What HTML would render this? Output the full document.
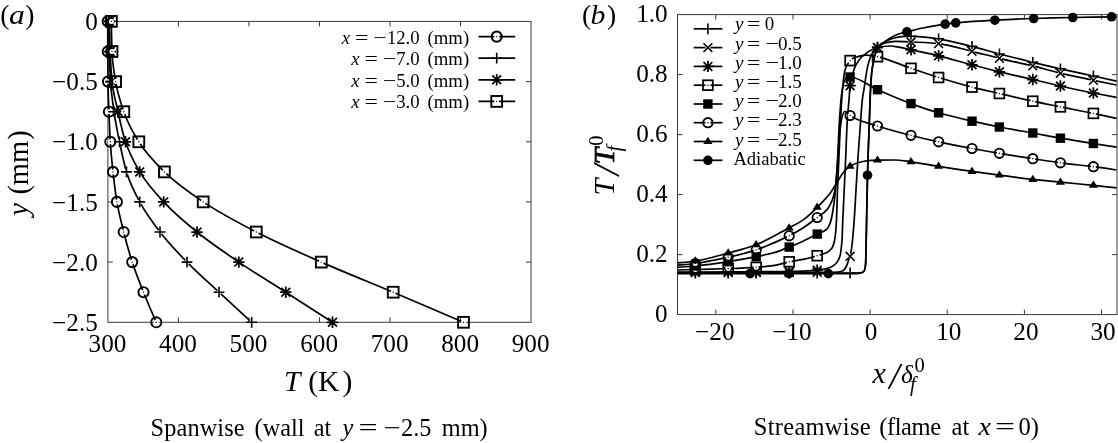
<!DOCTYPE html>
<html><head><meta charset="utf-8"><title>figure</title>
<style>html,body{margin:0;padding:0;background:#fff}svg{display:block}text{font-family:"Liberation Serif","DejaVu Serif",serif;fill:#000}</style></head>
<body>
<svg width="1118" height="443" viewBox="0 0 1118 443">
<rect width="1118" height="443" fill="#fff"/>
<rect x="107.9" y="21.4" width="423.1" height="300.9" fill="none" stroke="#3a3a3a" stroke-width="1"/>
<path d="M178.4 322.3v-5M178.4 21.4v5M248.9 322.3v-5M248.9 21.4v5M319.5 322.3v-5M319.5 21.4v5M390 322.3v-5M390 21.4v5M460.5 322.3v-5M460.5 21.4v5M107.9 81.6h5M531 81.6h-5M107.9 141.8h5M531 141.8h-5M107.9 201.9h5M531 201.9h-5M107.9 262.1h5M531 262.1h-5" stroke="#3a3a3a" stroke-width="1" fill="none"/>
<g font-size="25.2" text-anchor="middle">
<text x="107.5" y="352.3">300</text>
<text x="178" y="352.3">400</text>
<text x="248.5" y="352.3">500</text>
<text x="319.1" y="352.3">600</text>
<text x="389.6" y="352.3">700</text>
<text x="460.1" y="352.3">800</text>
<text x="530.6" y="352.3">900</text>
</g>
<text y="30" font-size="25.2"><tspan x="85.20">0</tspan></text>
<text y="90.2" font-size="25.2"><tspan x="52.00">−</tspan><tspan x="66.30">0.5</tspan></text>
<text y="150.4" font-size="25.2"><tspan x="52.00">−</tspan><tspan x="66.30">1.0</tspan></text>
<text y="210.5" font-size="25.2"><tspan x="52.00">−</tspan><tspan x="66.30">1.5</tspan></text>
<text y="270.7" font-size="25.2"><tspan x="52.00">−</tspan><tspan x="66.30">2.0</tspan></text>
<text y="330.9" font-size="25.2"><tspan x="52.00">−</tspan><tspan x="66.30">2.5</tspan></text>
<path d="M107.7 21.4C107.7 31.4 107.8 41.5 107.8 51.5C107.8 61.5 107.9 71.6 108 81.6C108.1 91.6 108.5 101.6 108.9 111.7C109.3 121.7 109.7 131.7 110.3 141.8C110.9 151.8 111.9 161.8 113 171.9C114.1 181.9 115.2 191.9 116.9 201.9C118.6 212 121.2 222 123.7 232C126.2 242.1 129 252.1 132.2 262.1C135.4 272.2 139.5 282.2 143.5 292.2C147.5 302.2 151.8 312.3 156.3 322.3" fill="none" stroke="#000" stroke-width="1.7"/>
<circle cx="107.7" cy="21.4" r="2.5" fill="#fff"/><circle cx="107.7" cy="21.4" r="5.1" fill="none" stroke="#000" stroke-width="1.9"/><circle cx="107.7" cy="21.4" r="0.7" fill="#000"/>
<circle cx="107.8" cy="51.5" r="2.5" fill="#fff"/><circle cx="107.8" cy="51.5" r="5.1" fill="none" stroke="#000" stroke-width="1.9"/><circle cx="107.8" cy="51.5" r="0.7" fill="#000"/>
<circle cx="108" cy="81.6" r="2.5" fill="#fff"/><circle cx="108" cy="81.6" r="5.1" fill="none" stroke="#000" stroke-width="1.9"/><circle cx="108" cy="81.6" r="0.7" fill="#000"/>
<circle cx="108.9" cy="111.7" r="2.5" fill="#fff"/><circle cx="108.9" cy="111.7" r="5.1" fill="none" stroke="#000" stroke-width="1.9"/><circle cx="108.9" cy="111.7" r="0.7" fill="#000"/>
<circle cx="110.3" cy="141.8" r="2.5" fill="#fff"/><circle cx="110.3" cy="141.8" r="5.1" fill="none" stroke="#000" stroke-width="1.9"/><circle cx="110.3" cy="141.8" r="0.7" fill="#000"/>
<circle cx="113" cy="171.9" r="2.5" fill="#fff"/><circle cx="113" cy="171.9" r="5.1" fill="none" stroke="#000" stroke-width="1.9"/><circle cx="113" cy="171.9" r="0.7" fill="#000"/>
<circle cx="116.9" cy="201.9" r="2.5" fill="#fff"/><circle cx="116.9" cy="201.9" r="5.1" fill="none" stroke="#000" stroke-width="1.9"/><circle cx="116.9" cy="201.9" r="0.7" fill="#000"/>
<circle cx="123.7" cy="232" r="2.5" fill="#fff"/><circle cx="123.7" cy="232" r="5.1" fill="none" stroke="#000" stroke-width="1.9"/><circle cx="123.7" cy="232" r="0.7" fill="#000"/>
<circle cx="132.2" cy="262.1" r="2.5" fill="#fff"/><circle cx="132.2" cy="262.1" r="5.1" fill="none" stroke="#000" stroke-width="1.9"/><circle cx="132.2" cy="262.1" r="0.7" fill="#000"/>
<circle cx="143.5" cy="292.2" r="2.5" fill="#fff"/><circle cx="143.5" cy="292.2" r="5.1" fill="none" stroke="#000" stroke-width="1.9"/><circle cx="143.5" cy="292.2" r="0.7" fill="#000"/>
<circle cx="156.3" cy="322.3" r="2.5" fill="#fff"/><circle cx="156.3" cy="322.3" r="5.1" fill="none" stroke="#000" stroke-width="1.9"/><circle cx="156.3" cy="322.3" r="0.7" fill="#000"/>
<path d="M109 21.4C109 31.4 109.1 41.5 109.3 51.5C109.5 61.5 109.9 71.6 110.5 81.6C111.1 91.6 112.6 101.6 114 111.7C115.4 121.7 117.4 131.7 119.5 141.8C121.6 151.8 123.5 161.8 126.5 171.9C129.5 181.9 134.4 191.9 139.7 201.9C145 212 152.3 222 160 232C167.7 242.1 177.2 252.1 187 262.1C196.8 272.2 208.2 282.2 219 292.2C229.8 302.2 240.7 312.3 251.7 322.3" fill="none" stroke="#000" stroke-width="1.7"/>
<circle cx="109" cy="21.4" r="2.5" fill="#fff"/><path d="M103.6 21.4H114.4M109 16V26.8" stroke="#000" stroke-width="1.6" fill="none"/>
<circle cx="109.3" cy="51.5" r="2.5" fill="#fff"/><path d="M103.9 51.5H114.7M109.3 46.1V56.9" stroke="#000" stroke-width="1.6" fill="none"/>
<circle cx="110.5" cy="81.6" r="2.5" fill="#fff"/><path d="M105.1 81.6H115.9M110.5 76.2V87" stroke="#000" stroke-width="1.6" fill="none"/>
<circle cx="114" cy="111.7" r="2.5" fill="#fff"/><path d="M108.6 111.7H119.4M114 106.3V117.1" stroke="#000" stroke-width="1.6" fill="none"/>
<circle cx="119.5" cy="141.8" r="2.5" fill="#fff"/><path d="M114.1 141.8H124.9M119.5 136.4V147.2" stroke="#000" stroke-width="1.6" fill="none"/>
<circle cx="126.5" cy="171.9" r="2.5" fill="#fff"/><path d="M121.1 171.9H131.9M126.5 166.5V177.3" stroke="#000" stroke-width="1.6" fill="none"/>
<circle cx="139.7" cy="201.9" r="2.5" fill="#fff"/><path d="M134.3 201.9H145.1M139.7 196.5V207.3" stroke="#000" stroke-width="1.6" fill="none"/>
<circle cx="160" cy="232" r="2.5" fill="#fff"/><path d="M154.6 232H165.4M160 226.6V237.4" stroke="#000" stroke-width="1.6" fill="none"/>
<circle cx="187" cy="262.1" r="2.5" fill="#fff"/><path d="M181.6 262.1H192.4M187 256.7V267.5" stroke="#000" stroke-width="1.6" fill="none"/>
<circle cx="219" cy="292.2" r="2.5" fill="#fff"/><path d="M213.6 292.2H224.4M219 286.8V297.6" stroke="#000" stroke-width="1.6" fill="none"/>
<circle cx="251.7" cy="322.3" r="2.5" fill="#fff"/><path d="M246.3 322.3H257.1M251.7 316.9V327.7" stroke="#000" stroke-width="1.6" fill="none"/>
<path d="M109.5 21.4C109.5 31.4 109.9 41.5 110.2 51.5C110.5 61.5 111.1 71.6 112 81.6C112.9 91.6 115.8 101.6 118 111.7C120.2 121.7 122.2 131.7 125.5 141.8C128.8 151.8 133.8 161.8 139.7 171.9C145.6 181.9 154.4 191.9 163.7 201.9C173 212 184.6 222 197 232C209.4 242.1 224.1 252.1 238.8 262.1C253.5 272.2 270.2 282.2 285.8 292.2C301.4 302.2 317 312.3 332.5 322.3" fill="none" stroke="#000" stroke-width="1.7"/>
<circle cx="109.5" cy="21.4" r="2.5" fill="#fff"/><path d="M103.8 21.4H115.2M109.5 15.7V27.1M105.1 17L113.9 25.8M105.1 25.8L113.9 17" stroke="#000" stroke-width="1.75" fill="none"/>
<circle cx="110.2" cy="51.5" r="2.5" fill="#fff"/><path d="M104.5 51.5H115.9M110.2 45.8V57.2M105.8 47.1L114.6 55.9M105.8 55.9L114.6 47.1" stroke="#000" stroke-width="1.75" fill="none"/>
<circle cx="112" cy="81.6" r="2.5" fill="#fff"/><path d="M106.3 81.6H117.7M112 75.9V87.3M107.6 77.2L116.4 86M107.6 86L116.4 77.2" stroke="#000" stroke-width="1.75" fill="none"/>
<circle cx="118" cy="111.7" r="2.5" fill="#fff"/><path d="M112.3 111.7H123.7M118 106V117.4M113.6 107.3L122.4 116.1M113.6 116.1L122.4 107.3" stroke="#000" stroke-width="1.75" fill="none"/>
<circle cx="125.5" cy="141.8" r="2.5" fill="#fff"/><path d="M119.8 141.8H131.2M125.5 136.1V147.5M121.1 137.4L129.9 146.2M121.1 146.2L129.9 137.4" stroke="#000" stroke-width="1.75" fill="none"/>
<circle cx="139.7" cy="171.9" r="2.5" fill="#fff"/><path d="M134 171.9H145.4M139.7 166.2V177.6M135.3 167.5L144.1 176.3M135.3 176.3L144.1 167.5" stroke="#000" stroke-width="1.75" fill="none"/>
<circle cx="163.7" cy="201.9" r="2.5" fill="#fff"/><path d="M158 201.9H169.4M163.7 196.2V207.6M159.3 197.5L168.1 206.3M159.3 206.3L168.1 197.5" stroke="#000" stroke-width="1.75" fill="none"/>
<circle cx="197" cy="232" r="2.5" fill="#fff"/><path d="M191.3 232H202.7M197 226.3V237.7M192.6 227.6L201.4 236.4M192.6 236.4L201.4 227.6" stroke="#000" stroke-width="1.75" fill="none"/>
<circle cx="238.8" cy="262.1" r="2.5" fill="#fff"/><path d="M233.1 262.1H244.5M238.8 256.4V267.8M234.4 257.7L243.2 266.5M234.4 266.5L243.2 257.7" stroke="#000" stroke-width="1.75" fill="none"/>
<circle cx="285.8" cy="292.2" r="2.5" fill="#fff"/><path d="M280.1 292.2H291.5M285.8 286.5V297.9M281.4 287.8L290.2 296.6M281.4 296.6L290.2 287.8" stroke="#000" stroke-width="1.75" fill="none"/>
<circle cx="332.5" cy="322.3" r="2.5" fill="#fff"/><path d="M326.8 322.3H338.2M332.5 316.6V328M328.1 317.9L336.9 326.7M328.1 326.7L336.9 317.9" stroke="#000" stroke-width="1.75" fill="none"/>
<path d="M111.4 21.4C111.4 31.4 111.7 41.5 112 51.5C112.3 61.5 113.9 71.6 115.6 81.6C117.3 91.6 120.3 101.6 123.8 111.7C127.3 121.7 132.5 131.7 138.8 141.8C145.1 151.8 154.1 161.8 164.4 171.9C174.7 181.9 188.3 191.9 203.2 201.9C218.1 212 236.8 222 256.3 232C275.8 242.1 298.5 252.1 321.3 262.1C344.1 272.2 369.5 282.2 393.2 292.2C416.9 302.2 440.3 312.3 463.5 322.3" fill="none" stroke="#000" stroke-width="1.7"/>
<circle cx="111.4" cy="21.4" r="2.5" fill="#fff"/><rect x="106" y="16" width="10.8" height="10.8" fill="none" stroke="#000" stroke-width="1.9"/><circle cx="111.4" cy="21.4" r="0.7" fill="#000"/>
<circle cx="112" cy="51.5" r="2.5" fill="#fff"/><rect x="106.6" y="46.1" width="10.8" height="10.8" fill="none" stroke="#000" stroke-width="1.9"/><circle cx="112" cy="51.5" r="0.7" fill="#000"/>
<circle cx="115.6" cy="81.6" r="2.5" fill="#fff"/><rect x="110.2" y="76.2" width="10.8" height="10.8" fill="none" stroke="#000" stroke-width="1.9"/><circle cx="115.6" cy="81.6" r="0.7" fill="#000"/>
<circle cx="123.8" cy="111.7" r="2.5" fill="#fff"/><rect x="118.4" y="106.3" width="10.8" height="10.8" fill="none" stroke="#000" stroke-width="1.9"/><circle cx="123.8" cy="111.7" r="0.7" fill="#000"/>
<circle cx="138.8" cy="141.8" r="2.5" fill="#fff"/><rect x="133.4" y="136.4" width="10.8" height="10.8" fill="none" stroke="#000" stroke-width="1.9"/><circle cx="138.8" cy="141.8" r="0.7" fill="#000"/>
<circle cx="164.4" cy="171.9" r="2.5" fill="#fff"/><rect x="159" y="166.5" width="10.8" height="10.8" fill="none" stroke="#000" stroke-width="1.9"/><circle cx="164.4" cy="171.9" r="0.7" fill="#000"/>
<circle cx="203.2" cy="201.9" r="2.5" fill="#fff"/><rect x="197.8" y="196.5" width="10.8" height="10.8" fill="none" stroke="#000" stroke-width="1.9"/><circle cx="203.2" cy="201.9" r="0.7" fill="#000"/>
<circle cx="256.3" cy="232" r="2.5" fill="#fff"/><rect x="250.9" y="226.6" width="10.8" height="10.8" fill="none" stroke="#000" stroke-width="1.9"/><circle cx="256.3" cy="232" r="0.7" fill="#000"/>
<circle cx="321.3" cy="262.1" r="2.5" fill="#fff"/><rect x="315.9" y="256.7" width="10.8" height="10.8" fill="none" stroke="#000" stroke-width="1.9"/><circle cx="321.3" cy="262.1" r="0.7" fill="#000"/>
<circle cx="393.2" cy="292.2" r="2.5" fill="#fff"/><rect x="387.8" y="286.8" width="10.8" height="10.8" fill="none" stroke="#000" stroke-width="1.9"/><circle cx="393.2" cy="292.2" r="0.7" fill="#000"/>
<circle cx="463.5" cy="322.3" r="2.5" fill="#fff"/><rect x="458.1" y="316.9" width="10.8" height="10.8" fill="none" stroke="#000" stroke-width="1.9"/><circle cx="463.5" cy="322.3" r="0.7" fill="#000"/>
<path d="M478.5 36.6H515.2" stroke="#000" stroke-width="1.7"/>
<circle cx="496.7" cy="36.6" r="2.5" fill="#fff"/><circle cx="496.7" cy="36.6" r="5.1" fill="none" stroke="#000" stroke-width="1.9"/><circle cx="496.7" cy="36.6" r="0.7" fill="#000"/>
<text y="43.5" font-size="18.7" id="ll0"><tspan x="341.73" font-style="italic">x</tspan><tspan x="386.88">12.0</tspan><tspan x="427.60">(mm)</tspan></text><text transform=" translate(355.10 43.5) scale(1.27 1)" font-size="18.7">=</text><text transform=" translate(373.30 43.5) scale(1.27 1)" font-size="18.7">−</text>
<path d="M478.5 58.1H515.2" stroke="#000" stroke-width="1.7"/>
<circle cx="496.7" cy="58.1" r="2.5" fill="#fff"/><path d="M491.3 58.1H502.1M496.7 52.7V63.5" stroke="#000" stroke-width="1.6" fill="none"/>
<text y="65" font-size="18.7" id="ll1"><tspan x="351.23" font-style="italic">x</tspan><tspan x="396.23">7.0</tspan><tspan x="427.60">(mm)</tspan></text><text transform=" translate(364.60 65) scale(1.27 1)" font-size="18.7">=</text><text transform=" translate(382.80 65) scale(1.27 1)" font-size="18.7">−</text>
<path d="M478.5 79.8H515.2" stroke="#000" stroke-width="1.7"/>
<circle cx="496.7" cy="79.8" r="2.5" fill="#fff"/><path d="M491 79.8H502.4M496.7 74.1V85.5M492.3 75.4L501.1 84.2M492.3 84.2L501.1 75.4" stroke="#000" stroke-width="1.75" fill="none"/>
<text y="86.7" font-size="18.7" id="ll2"><tspan x="351.23" font-style="italic">x</tspan><tspan x="396.23">5.0</tspan><tspan x="427.60">(mm)</tspan></text><text transform=" translate(364.60 86.7) scale(1.27 1)" font-size="18.7">=</text><text transform=" translate(382.80 86.7) scale(1.27 1)" font-size="18.7">−</text>
<path d="M478.5 101.4H515.2" stroke="#000" stroke-width="1.7"/>
<circle cx="496.7" cy="101.4" r="2.5" fill="#fff"/><rect x="491.3" y="96" width="10.8" height="10.8" fill="none" stroke="#000" stroke-width="1.9"/><circle cx="496.7" cy="101.4" r="0.7" fill="#000"/>
<text y="108.3" font-size="18.7" id="ll3"><tspan x="351.23" font-style="italic">x</tspan><tspan x="396.23">3.0</tspan><tspan x="427.60">(mm)</tspan></text><text transform=" translate(364.60 108.3) scale(1.27 1)" font-size="18.7">=</text><text transform=" translate(382.80 108.3) scale(1.27 1)" font-size="18.7">−</text>
<text y="23.7" font-size="27.5" id="pa"><tspan x="0.30">(</tspan><tspan x="25.30">)</tspan></text><text transform=" translate(9.00 23.7) scale(1.15 1)" font-size="27.5" font-style="italic">a</text>
<text y="28" font-size="28.5" id="yl1" transform="rotate(-90)"><tspan x="-215.82" font-style="italic">y</tspan><tspan x="-194.60">(</tspan><tspan x="-185.20">mm</tspan><tspan x="-139.70">)</tspan></text>
<text y="391" font-size="29.6" id="xl1"><tspan x="284.00" font-style="italic">T</tspan><tspan x="308.30">(</tspan><tspan x="318.00">K</tspan><tspan x="342.44">)</tspan></text>
<text y="435.8" font-size="24.3" id="cap1"><tspan x="150.60" letter-spacing="0.12">Spanwise</tspan><tspan x="254.60">(wall</tspan><tspan x="313.80">at</tspan><tspan x="342.43" font-style="italic">y</tspan><tspan x="401.02">2.5</tspan><tspan x="441.81">mm)</tspan></text><text transform=" translate(358.40 435.8) scale(1.4 1)" font-size="24.3">=</text><text transform=" translate(383.60 435.8) scale(1.27 1)" font-size="24.3">−</text>
<rect x="677.5" y="14.6" width="439.5" height="300" fill="none" stroke="#3a3a3a" stroke-width="1"/>
<path d="M715.8 314.6v-5M715.8 14.6v5M793 314.6v-5M793 14.6v5M870.1 314.6v-5M870.1 14.6v5M947.2 314.6v-5M947.2 14.6v5M1024.4 314.6v-5M1024.4 14.6v5M1101.5 314.6v-5M1101.5 14.6v5M677.5 74.6h5M1117 74.6h-5M677.5 134.6h5M1117 134.6h-5M677.5 194.6h5M1117 194.6h-5M677.5 254.6h5M1117 254.6h-5" stroke="#3a3a3a" stroke-width="1" fill="none"/>
<g font-size="25.2" text-anchor="middle">
<text x="714.8" y="340.2">−20</text>
<text x="792" y="340.2">−10</text>
<text x="871" y="340.2">0</text>
<text x="948.8" y="340.2">10</text>
<text x="1025.9" y="340.2">20</text>
<text x="1103" y="340.2">30</text>
</g>
<text y="22" font-size="25.2"><tspan x="636.20">1.0</tspan></text>
<text y="82" font-size="25.2"><tspan x="636.20">0.8</tspan></text>
<text y="142" font-size="25.2"><tspan x="636.20">0.6</tspan></text>
<text y="202" font-size="25.2"><tspan x="636.20">0.4</tspan></text>
<text y="262" font-size="25.2"><tspan x="636.20">0.2</tspan></text>
<text y="322" font-size="25.2"><tspan x="655.10">0</tspan></text>
<path d="M677.6 273C705.1 273 732.5 273 760 273C792.3 273 824.7 273 857 273C858.8 273 860.6 272.8 862.4 272.3C863.1 272.1 863.9 271.3 864.6 269.8C864.9 269.1 865.3 267.6 865.6 264C865.8 261.8 866 248.9 866.2 240C866.4 232.6 866.5 223.3 866.7 215C867 201.7 867.2 185.5 867.5 175.2C867.8 164.9 868 157.8 868.3 150C868.7 139.2 869 130 869.4 120C869.8 110 870.1 96.7 870.5 90C871 80.9 871.5 73.8 872 70C872.6 65.1 873.3 63 873.9 60C874.4 57.5 875 54.9 875.5 53C876.1 51 876.6 48.6 877.2 47.8C879 45.3 880.7 44.7 882.5 43.6C886.1 41.3 889.8 39.1 893.4 38.2C897 37.3 900.6 36.5 904.2 36.4C907.8 36.3 911.4 36.3 915 36.3C918.3 36.3 921.7 36.8 925 37.1C929.5 37.5 934 38.1 938.5 38.8C949.7 40.5 960.8 43.6 972 46.4C981.1 48.7 990.3 51.6 999.4 54C1010.5 56.9 1021.7 59.6 1032.8 62.3C1042 64.5 1051.2 66.7 1060.4 68.8C1071.4 71.3 1082.4 73.6 1093.4 76C1101.1 77.7 1108.8 79.4 1116.5 81.2" fill="none" stroke="#000" stroke-width="1.7" stroke-linejoin="round"/>
<circle cx="695.3" cy="273" r="2.5" fill="#fff"/><path d="M689.9 273H700.7M695.3 267.6V278.4" stroke="#000" stroke-width="1.6" fill="none"/>
<circle cx="728.2" cy="273" r="2.5" fill="#fff"/><path d="M722.8 273H733.6M728.2 267.6V278.4" stroke="#000" stroke-width="1.6" fill="none"/>
<circle cx="756.2" cy="273" r="2.5" fill="#fff"/><path d="M750.8 273H761.6M756.2 267.6V278.4" stroke="#000" stroke-width="1.6" fill="none"/>
<circle cx="789.2" cy="273" r="2.5" fill="#fff"/><path d="M783.8 273H794.6M789.2 267.6V278.4" stroke="#000" stroke-width="1.6" fill="none"/>
<circle cx="817.2" cy="273" r="2.5" fill="#fff"/><path d="M811.8 273H822.6M817.2 267.6V278.4" stroke="#000" stroke-width="1.6" fill="none"/>
<circle cx="850.1" cy="273" r="2.5" fill="#fff"/><path d="M844.7 273H855.5M850.1 267.6V278.4" stroke="#000" stroke-width="1.6" fill="none"/>
<circle cx="877.5" cy="47.4" r="2.5" fill="#fff"/><path d="M872.1 47.4H882.9M877.5 42V52.8" stroke="#000" stroke-width="1.6" fill="none"/>
<circle cx="911" cy="36.3" r="2.5" fill="#fff"/><path d="M905.6 36.3H916.4M911 30.9V41.7" stroke="#000" stroke-width="1.6" fill="none"/>
<circle cx="938.6" cy="38.8" r="2.5" fill="#fff"/><path d="M933.2 38.8H944M938.6 33.4V44.2" stroke="#000" stroke-width="1.6" fill="none"/>
<circle cx="972" cy="46.4" r="2.5" fill="#fff"/><path d="M966.6 46.4H977.4M972 41V51.8" stroke="#000" stroke-width="1.6" fill="none"/>
<circle cx="999.4" cy="54" r="2.5" fill="#fff"/><path d="M994 54H1004.8M999.4 48.6V59.4" stroke="#000" stroke-width="1.6" fill="none"/>
<circle cx="1032.8" cy="62.3" r="2.5" fill="#fff"/><path d="M1027.4 62.3H1038.2M1032.8 56.9V67.7" stroke="#000" stroke-width="1.6" fill="none"/>
<circle cx="1060.4" cy="68.8" r="2.5" fill="#fff"/><path d="M1055 68.8H1065.8M1060.4 63.4V74.2" stroke="#000" stroke-width="1.6" fill="none"/>
<circle cx="1093.4" cy="76" r="2.5" fill="#fff"/><path d="M1088 76H1098.8M1093.4 70.6V81.4" stroke="#000" stroke-width="1.6" fill="none"/>
<path d="M677.6 272.5C705.1 272.5 732.5 272.5 760 272.5C783.3 272.5 806.7 272.5 830 272.4C832.7 272.4 835.3 272.2 838 272C839.7 271.9 841.3 271.5 843 270.7C844.2 270.2 845.3 268.2 846.5 266C847.2 264.8 847.8 262.3 848.5 260.5C849 259.1 849.6 258.2 850.1 256.3C850.7 254 851.4 249.9 852 245C852.7 239.3 853.5 230 854.2 220C854.8 211.8 855.4 200 856 190C856.6 180 857.2 169.1 857.8 160C858.8 145.3 859.7 132.6 860.7 120C861.2 113 861.8 104.5 862.3 100C862.9 94.6 863.6 92.2 864.2 88C864.7 84.5 865.3 80.4 865.8 77C866.4 73.2 867 69.2 867.6 66.6C868.6 62.4 869.5 59.3 870.5 57C871.5 54.6 872.5 52.8 873.5 51.5C874.7 49.9 876 48.8 877.2 47.8C879.8 45.8 882.4 43.7 885 43C888.3 42.1 891.7 41.3 895 41.3C900.3 41.3 905.7 41.8 911 42C915.7 42.2 920.3 42.3 925 42.5C929.5 42.7 934 43.1 938.5 43.6C949.7 44.9 960.8 48.6 972 51.3C981.1 53.5 990.3 56.1 999.4 58.3C1010.5 61 1021.7 63.2 1032.8 65.9C1042 68.2 1051.2 71 1060.4 73.2C1071.4 75.8 1082.4 78 1093.4 80.3C1101.1 81.9 1108.8 83.5 1116.5 85" fill="none" stroke="#000" stroke-width="1.7" stroke-linejoin="round"/>
<circle cx="695.3" cy="272.5" r="2.5" fill="#fff"/><path d="M690.9 268.1L699.7 276.9M690.9 276.9L699.7 268.1" stroke="#000" stroke-width="1.6" fill="none"/>
<circle cx="728.2" cy="272.5" r="2.5" fill="#fff"/><path d="M723.8 268.1L732.6 276.9M723.8 276.9L732.6 268.1" stroke="#000" stroke-width="1.6" fill="none"/>
<circle cx="756.2" cy="272.5" r="2.5" fill="#fff"/><path d="M751.8 268.1L760.6 276.9M751.8 276.9L760.6 268.1" stroke="#000" stroke-width="1.6" fill="none"/>
<circle cx="789.2" cy="272.5" r="2.5" fill="#fff"/><path d="M784.8 268.1L793.6 276.9M784.8 276.9L793.6 268.1" stroke="#000" stroke-width="1.6" fill="none"/>
<circle cx="817.2" cy="272.4" r="2.5" fill="#fff"/><path d="M812.8 268L821.6 276.8M812.8 276.8L821.6 268" stroke="#000" stroke-width="1.6" fill="none"/>
<circle cx="850.1" cy="256.3" r="2.5" fill="#fff"/><path d="M845.7 251.9L854.5 260.7M845.7 260.7L854.5 251.9" stroke="#000" stroke-width="1.6" fill="none"/>
<circle cx="877.5" cy="47.6" r="2.5" fill="#fff"/><path d="M873.1 43.2L881.9 52M873.1 52L881.9 43.2" stroke="#000" stroke-width="1.6" fill="none"/>
<circle cx="911" cy="42" r="2.5" fill="#fff"/><path d="M906.6 37.6L915.4 46.4M906.6 46.4L915.4 37.6" stroke="#000" stroke-width="1.6" fill="none"/>
<circle cx="938.6" cy="43.6" r="2.5" fill="#fff"/><path d="M934.2 39.2L943 48M934.2 48L943 39.2" stroke="#000" stroke-width="1.6" fill="none"/>
<circle cx="972" cy="51.3" r="2.5" fill="#fff"/><path d="M967.6 46.9L976.4 55.7M967.6 55.7L976.4 46.9" stroke="#000" stroke-width="1.6" fill="none"/>
<circle cx="999.4" cy="58.3" r="2.5" fill="#fff"/><path d="M995 53.9L1003.8 62.7M995 62.7L1003.8 53.9" stroke="#000" stroke-width="1.6" fill="none"/>
<circle cx="1032.8" cy="65.9" r="2.5" fill="#fff"/><path d="M1028.4 61.5L1037.2 70.3M1028.4 70.3L1037.2 61.5" stroke="#000" stroke-width="1.6" fill="none"/>
<circle cx="1060.4" cy="73.2" r="2.5" fill="#fff"/><path d="M1056 68.8L1064.8 77.6M1056 77.6L1064.8 68.8" stroke="#000" stroke-width="1.6" fill="none"/>
<circle cx="1093.4" cy="80.3" r="2.5" fill="#fff"/><path d="M1089 75.9L1097.8 84.7M1089 84.7L1097.8 75.9" stroke="#000" stroke-width="1.6" fill="none"/>
<path d="M677.6 272C698.4 272 719.2 272 740 271.9C756.4 271.9 772.8 271.7 789.2 271.5C798.5 271.4 807.9 271 817.2 270.3C821.5 270 825.7 269 830 267.5C832 266.8 834 265.5 836 263.5C837.3 262.1 838.7 260.4 840 256C840.7 253.8 841.3 248.7 842 240C842.3 236.5 842.5 226.2 842.8 220C843.3 209.2 843.7 200 844.2 190C844.7 180 845.1 170.5 845.6 160C846.2 147.3 846.7 128.9 847.3 120C847.9 111.1 848.4 107 849 100C849.4 95.5 849.7 88.3 850.1 85.7C850.9 79.7 851.8 77.3 852.6 74.3C853.5 71 854.4 68.1 855.3 66.2C857.1 62.4 858.9 60 860.7 58C862.1 56.4 863.6 55.5 865 54.3C866.3 53.2 867.6 52.1 868.9 51.3C870.3 50.5 871.6 49.8 873 49.2C874.4 48.6 875.8 47.8 877.2 47.5C881.5 46.6 885.7 46 890 46C893.3 46 896.7 46.8 900 47.3C903.7 47.9 907.3 49 911 49.8C920.2 51.8 929.3 53.6 938.5 55.8C949.7 58.5 960.8 61.9 972 64.8C981.1 67.2 990.3 69.6 999.4 71.8C1010.5 74.5 1021.7 76.9 1032.8 79.5C1042 81.6 1051.2 83.9 1060.4 86C1071.4 88.5 1082.4 90.8 1093.4 93C1101.1 94.5 1108.8 95.9 1116.5 97.3" fill="none" stroke="#000" stroke-width="1.7" stroke-linejoin="round"/>
<circle cx="695.3" cy="272" r="2.5" fill="#fff"/><path d="M689.6 272H701M695.3 266.3V277.7M690.9 267.6L699.7 276.4M690.9 276.4L699.7 267.6" stroke="#000" stroke-width="1.75" fill="none"/>
<circle cx="728.2" cy="271.9" r="2.5" fill="#fff"/><path d="M722.5 271.9H733.9M728.2 266.2V277.6M723.8 267.5L732.6 276.3M723.8 276.3L732.6 267.5" stroke="#000" stroke-width="1.75" fill="none"/>
<circle cx="756.2" cy="271.8" r="2.5" fill="#fff"/><path d="M750.5 271.8H761.9M756.2 266.1V277.5M751.8 267.4L760.6 276.2M751.8 276.2L760.6 267.4" stroke="#000" stroke-width="1.75" fill="none"/>
<circle cx="789.2" cy="271.5" r="2.5" fill="#fff"/><path d="M783.5 271.5H794.9M789.2 265.8V277.2M784.8 267.1L793.6 275.9M784.8 275.9L793.6 267.1" stroke="#000" stroke-width="1.75" fill="none"/>
<circle cx="817.2" cy="270.3" r="2.5" fill="#fff"/><path d="M811.5 270.3H822.9M817.2 264.6V276M812.8 265.9L821.6 274.7M812.8 274.7L821.6 265.9" stroke="#000" stroke-width="1.75" fill="none"/>
<circle cx="850.1" cy="85.7" r="2.5" fill="#fff"/><path d="M844.4 85.7H855.8M850.1 80V91.4M845.7 81.3L854.5 90.1M845.7 90.1L854.5 81.3" stroke="#000" stroke-width="1.75" fill="none"/>
<circle cx="877.5" cy="47.4" r="2.5" fill="#fff"/><path d="M871.8 47.4H883.2M877.5 41.7V53.1M873.1 43L881.9 51.8M873.1 51.8L881.9 43" stroke="#000" stroke-width="1.75" fill="none"/>
<circle cx="911" cy="49.8" r="2.5" fill="#fff"/><path d="M905.3 49.8H916.7M911 44.1V55.5M906.6 45.4L915.4 54.2M906.6 54.2L915.4 45.4" stroke="#000" stroke-width="1.75" fill="none"/>
<circle cx="938.6" cy="55.8" r="2.5" fill="#fff"/><path d="M932.9 55.8H944.3M938.6 50.1V61.5M934.2 51.4L943 60.2M934.2 60.2L943 51.4" stroke="#000" stroke-width="1.75" fill="none"/>
<circle cx="972" cy="64.8" r="2.5" fill="#fff"/><path d="M966.3 64.8H977.7M972 59.1V70.5M967.6 60.4L976.4 69.2M967.6 69.2L976.4 60.4" stroke="#000" stroke-width="1.75" fill="none"/>
<circle cx="999.4" cy="71.8" r="2.5" fill="#fff"/><path d="M993.7 71.8H1005.1M999.4 66.1V77.5M995 67.4L1003.8 76.2M995 76.2L1003.8 67.4" stroke="#000" stroke-width="1.75" fill="none"/>
<circle cx="1032.8" cy="79.5" r="2.5" fill="#fff"/><path d="M1027.1 79.5H1038.5M1032.8 73.8V85.2M1028.4 75.1L1037.2 83.9M1028.4 83.9L1037.2 75.1" stroke="#000" stroke-width="1.75" fill="none"/>
<circle cx="1060.4" cy="86" r="2.5" fill="#fff"/><path d="M1054.7 86H1066.1M1060.4 80.3V91.7M1056 81.6L1064.8 90.4M1056 90.4L1064.8 81.6" stroke="#000" stroke-width="1.75" fill="none"/>
<circle cx="1093.4" cy="93" r="2.5" fill="#fff"/><path d="M1087.7 93H1099.1M1093.4 87.3V98.7M1089 88.6L1097.8 97.4M1089 97.4L1097.8 88.6" stroke="#000" stroke-width="1.75" fill="none"/>
<path d="M677.6 270C683.5 269.8 689.4 269.7 695.3 269.5C706.3 269.2 717.2 268.9 728.2 268.5C737.5 268.2 746.9 267.9 756.2 267.3C762.5 266.9 768.7 266.3 775 265.4C779.7 264.7 784.5 262.8 789.2 261.8C793.8 260.8 798.4 260.3 803 259.3C807.7 258.3 812.5 257.1 817.2 255.7C820.5 254.8 823.7 254.1 827 252.5C828.7 251.7 830.3 250.5 832 248C833 246.5 834 243.6 835 238C835.5 235.2 836 228.8 836.5 220C836.8 214.1 837.2 198.7 837.5 190C837.9 178.6 838.4 170.1 838.8 160C839.4 146.8 839.9 130.4 840.5 120C841.2 107.7 841.8 97 842.5 90C843.3 81.2 844.2 72.9 845 70C845.8 67.3 846.5 66.2 847.3 64.8C848.3 63.1 849.2 61.5 850.2 60.5C851.3 59.4 852.4 58.5 853.5 58C855 57.3 856.5 56.9 858 56.6C860.7 56 863.3 55.2 866 55.2C868 55.2 870 55.4 872 55.6C874.4 55.8 876.9 56.5 879.3 57.1C889.9 59.7 900.4 64.7 911 68.3C920.2 71.5 929.4 74.7 938.6 77.5C949.7 80.9 960.9 84.2 972 87.1C981.1 89.4 990.3 91.4 999.4 93.5C1010.5 96.1 1021.7 98.8 1032.8 101.2C1042 103.2 1051.2 105 1060.4 106.9C1071.4 109.1 1082.4 111.1 1093.4 113.4C1101.1 115 1108.8 116.7 1116.5 118.4" fill="none" stroke="#000" stroke-width="1.7" stroke-linejoin="round"/>
<circle cx="695.3" cy="269.5" r="2.5" fill="#fff"/><rect x="690.4" y="264.6" width="9.8" height="9.8" fill="none" stroke="#000" stroke-width="1.75"/><circle cx="695.3" cy="269.5" r="0.7" fill="#000"/>
<circle cx="728.2" cy="268.5" r="2.5" fill="#fff"/><rect x="723.3" y="263.6" width="9.8" height="9.8" fill="none" stroke="#000" stroke-width="1.75"/><circle cx="728.2" cy="268.5" r="0.7" fill="#000"/>
<circle cx="756.2" cy="267.3" r="2.5" fill="#fff"/><rect x="751.3" y="262.4" width="9.8" height="9.8" fill="none" stroke="#000" stroke-width="1.75"/><circle cx="756.2" cy="267.3" r="0.7" fill="#000"/>
<circle cx="789.2" cy="261.8" r="2.5" fill="#fff"/><rect x="784.3" y="256.9" width="9.8" height="9.8" fill="none" stroke="#000" stroke-width="1.75"/><circle cx="789.2" cy="261.8" r="0.7" fill="#000"/>
<circle cx="817.2" cy="255.7" r="2.5" fill="#fff"/><rect x="812.3" y="250.8" width="9.8" height="9.8" fill="none" stroke="#000" stroke-width="1.75"/><circle cx="817.2" cy="255.7" r="0.7" fill="#000"/>
<circle cx="850.1" cy="60.6" r="2.5" fill="#fff"/><rect x="845.2" y="55.7" width="9.8" height="9.8" fill="none" stroke="#000" stroke-width="1.75"/><circle cx="850.1" cy="60.6" r="0.7" fill="#000"/>
<circle cx="877.5" cy="56.7" r="2.5" fill="#fff"/><rect x="872.6" y="51.8" width="9.8" height="9.8" fill="none" stroke="#000" stroke-width="1.75"/><circle cx="877.5" cy="56.7" r="0.7" fill="#000"/>
<circle cx="911" cy="68.3" r="2.5" fill="#fff"/><rect x="906.1" y="63.4" width="9.8" height="9.8" fill="none" stroke="#000" stroke-width="1.75"/><circle cx="911" cy="68.3" r="0.7" fill="#000"/>
<circle cx="938.6" cy="77.5" r="2.5" fill="#fff"/><rect x="933.7" y="72.6" width="9.8" height="9.8" fill="none" stroke="#000" stroke-width="1.75"/><circle cx="938.6" cy="77.5" r="0.7" fill="#000"/>
<circle cx="972" cy="87.1" r="2.5" fill="#fff"/><rect x="967.1" y="82.2" width="9.8" height="9.8" fill="none" stroke="#000" stroke-width="1.75"/><circle cx="972" cy="87.1" r="0.7" fill="#000"/>
<circle cx="999.4" cy="93.5" r="2.5" fill="#fff"/><rect x="994.5" y="88.6" width="9.8" height="9.8" fill="none" stroke="#000" stroke-width="1.75"/><circle cx="999.4" cy="93.5" r="0.7" fill="#000"/>
<circle cx="1032.8" cy="101.2" r="2.5" fill="#fff"/><rect x="1027.9" y="96.3" width="9.8" height="9.8" fill="none" stroke="#000" stroke-width="1.75"/><circle cx="1032.8" cy="101.2" r="0.7" fill="#000"/>
<circle cx="1060.4" cy="106.9" r="2.5" fill="#fff"/><rect x="1055.5" y="102" width="9.8" height="9.8" fill="none" stroke="#000" stroke-width="1.75"/><circle cx="1060.4" cy="106.9" r="0.7" fill="#000"/>
<circle cx="1093.4" cy="113.4" r="2.5" fill="#fff"/><rect x="1088.5" y="108.5" width="9.8" height="9.8" fill="none" stroke="#000" stroke-width="1.75"/><circle cx="1093.4" cy="113.4" r="0.7" fill="#000"/>
<path d="M677.6 267.3C683.5 267 689.4 266.5 695.3 266C706.3 265 717.2 263.4 728.2 261.7C737.5 260.3 746.9 258.6 756.2 256.7C762.5 255.4 768.7 254.2 775 252.4C779.7 251 784.5 249 789.2 247.1C793.8 245.3 798.4 243.3 803 241.2C807.6 239.1 812.3 236.6 816.9 234.2C820.3 232.5 823.6 232 827 229C828.2 227.9 829.3 225.4 830.5 222C831.3 219.6 832.2 215 833 210C833.8 205 834.7 198.8 835.5 190C836.2 183 836.8 171.4 837.5 160C838.2 148.6 838.8 130.3 839.5 120C840.2 109.7 840.8 100 841.5 95C842.3 88.8 843.2 84.1 844 82C845 79.5 846 77.3 847 77.2C847.9 77.1 848.9 77 849.8 77C859.3 77 868.7 85.9 878.2 90C889.1 94.8 900.1 99.6 911 103.6C920.2 107 929.4 110.2 938.6 112.8C949.7 116 960.9 118.6 972 121.2C981.1 123.3 990.3 125.2 999.4 127C1010.5 129.2 1021.7 131 1032.8 133C1042 134.7 1051.2 136.6 1060.4 138.2C1071.4 140.1 1082.4 141.7 1093.4 143.5C1101.1 144.7 1108.8 146 1116.5 147.2" fill="none" stroke="#000" stroke-width="1.7" stroke-linejoin="round"/>
<rect x="690.6" y="261.3" width="9.4" height="9.4" fill="#000"/>
<rect x="723.5" y="257" width="9.4" height="9.4" fill="#000"/>
<rect x="751.5" y="252" width="9.4" height="9.4" fill="#000"/>
<rect x="784.5" y="242.4" width="9.4" height="9.4" fill="#000"/>
<rect x="812.5" y="229.4" width="9.4" height="9.4" fill="#000"/>
<rect x="845.4" y="72.3" width="9.4" height="9.4" fill="#000"/>
<rect x="872.8" y="85" width="9.4" height="9.4" fill="#000"/>
<rect x="906.3" y="98.9" width="9.4" height="9.4" fill="#000"/>
<rect x="933.9" y="108.1" width="9.4" height="9.4" fill="#000"/>
<rect x="967.3" y="116.5" width="9.4" height="9.4" fill="#000"/>
<rect x="994.7" y="122.3" width="9.4" height="9.4" fill="#000"/>
<rect x="1028.1" y="128.3" width="9.4" height="9.4" fill="#000"/>
<rect x="1055.7" y="133.5" width="9.4" height="9.4" fill="#000"/>
<rect x="1088.7" y="138.8" width="9.4" height="9.4" fill="#000"/>
<path d="M677.6 265.2C683.5 264.8 689.4 264.2 695.3 263.5C706.3 262.1 717.2 259.7 728.2 257.3C737.5 255.2 746.9 252.9 756.2 249.9C762.5 247.9 768.7 245.1 775 242.4C779.7 240.4 784.5 238.2 789.2 235.8C793.8 233.5 798.4 230.9 803 228C807.7 225 812.4 221.2 817.1 217.6C820.3 215.2 823.4 213.7 826.6 210.1C828.4 208.1 830.2 205.1 832 200.7C832.9 198.5 833.8 195.7 834.7 191.2C835.2 188.8 835.6 184.5 836.1 180.3C836.5 176.4 837 172.2 837.4 166.8C837.8 162.2 838.1 155.2 838.5 150C839 142.9 839.5 134.4 840 130C840.7 124.1 841.3 119.2 842 117C842.9 114.2 843.7 111.5 844.6 111.5C845.6 111.5 846.5 112 847.5 112.5C848.4 113 849.3 115 850.2 115.6C859.5 121.8 868.9 123.2 878.2 126.2C889 129.7 899.7 132.5 910.5 135.2C919.8 137.6 929.2 139.8 938.5 141.8C949.7 144.2 960.8 146.4 972 148.5C981.1 150.2 990.3 151.8 999.4 153.3C1010.5 155.2 1021.7 157 1032.8 158.7C1042 160.1 1051.2 161.6 1060.4 162.8C1071.4 164.3 1082.4 165.3 1093.4 166.7C1101.1 167.7 1108.8 168.8 1116.5 170" fill="none" stroke="#000" stroke-width="1.7" stroke-linejoin="round"/>
<circle cx="695.3" cy="263.5" r="2.5" fill="#fff"/><circle cx="695.3" cy="263.5" r="4.7" fill="none" stroke="#000" stroke-width="1.8"/><circle cx="695.3" cy="263.5" r="0.7" fill="#000"/>
<circle cx="728.2" cy="257.3" r="2.5" fill="#fff"/><circle cx="728.2" cy="257.3" r="4.7" fill="none" stroke="#000" stroke-width="1.8"/><circle cx="728.2" cy="257.3" r="0.7" fill="#000"/>
<circle cx="756.2" cy="249.9" r="2.5" fill="#fff"/><circle cx="756.2" cy="249.9" r="4.7" fill="none" stroke="#000" stroke-width="1.8"/><circle cx="756.2" cy="249.9" r="0.7" fill="#000"/>
<circle cx="789.2" cy="235.8" r="2.5" fill="#fff"/><circle cx="789.2" cy="235.8" r="4.7" fill="none" stroke="#000" stroke-width="1.8"/><circle cx="789.2" cy="235.8" r="0.7" fill="#000"/>
<circle cx="817.2" cy="217.5" r="2.5" fill="#fff"/><circle cx="817.2" cy="217.5" r="4.7" fill="none" stroke="#000" stroke-width="1.8"/><circle cx="817.2" cy="217.5" r="0.7" fill="#000"/>
<circle cx="850.1" cy="115.5" r="2.5" fill="#fff"/><circle cx="850.1" cy="115.5" r="4.7" fill="none" stroke="#000" stroke-width="1.8"/><circle cx="850.1" cy="115.5" r="0.7" fill="#000"/>
<circle cx="877.5" cy="126" r="2.5" fill="#fff"/><circle cx="877.5" cy="126" r="4.7" fill="none" stroke="#000" stroke-width="1.8"/><circle cx="877.5" cy="126" r="0.7" fill="#000"/>
<circle cx="911" cy="135.3" r="2.5" fill="#fff"/><circle cx="911" cy="135.3" r="4.7" fill="none" stroke="#000" stroke-width="1.8"/><circle cx="911" cy="135.3" r="0.7" fill="#000"/>
<circle cx="938.6" cy="141.8" r="2.5" fill="#fff"/><circle cx="938.6" cy="141.8" r="4.7" fill="none" stroke="#000" stroke-width="1.8"/><circle cx="938.6" cy="141.8" r="0.7" fill="#000"/>
<circle cx="972" cy="148.5" r="2.5" fill="#fff"/><circle cx="972" cy="148.5" r="4.7" fill="none" stroke="#000" stroke-width="1.8"/><circle cx="972" cy="148.5" r="0.7" fill="#000"/>
<circle cx="999.4" cy="153.3" r="2.5" fill="#fff"/><circle cx="999.4" cy="153.3" r="4.7" fill="none" stroke="#000" stroke-width="1.8"/><circle cx="999.4" cy="153.3" r="0.7" fill="#000"/>
<circle cx="1032.8" cy="158.7" r="2.5" fill="#fff"/><circle cx="1032.8" cy="158.7" r="4.7" fill="none" stroke="#000" stroke-width="1.8"/><circle cx="1032.8" cy="158.7" r="0.7" fill="#000"/>
<circle cx="1060.4" cy="162.8" r="2.5" fill="#fff"/><circle cx="1060.4" cy="162.8" r="4.7" fill="none" stroke="#000" stroke-width="1.8"/><circle cx="1060.4" cy="162.8" r="0.7" fill="#000"/>
<circle cx="1093.4" cy="166.7" r="2.5" fill="#fff"/><circle cx="1093.4" cy="166.7" r="4.7" fill="none" stroke="#000" stroke-width="1.8"/><circle cx="1093.4" cy="166.7" r="0.7" fill="#000"/>
<path d="M677.6 262.9C683.5 262.5 689.4 261.8 695.3 261C706.3 259.4 717.2 255.9 728.2 253C737.5 250.5 746.9 248.2 756.2 244.7C762.5 242.4 768.7 238.8 775 235.6C779.7 233.2 784.5 230.5 789.2 227.9C794 225.2 798.8 223 803.6 219.6C808.3 216.3 813.1 211.4 817.8 206.7C822.1 202.4 826.4 198.2 830.7 192.5C832.9 189.5 835.2 185.2 837.4 181.7C839.7 178.2 841.9 174 844.2 171.5C846.2 169.2 848.3 167.3 850.3 166.1C853.7 164.2 857.1 162.8 860.5 162C864.1 161.2 867.7 160.5 871.3 160.3C873.5 160.2 875.8 160.1 878 160.1C883.7 160 889.3 160 895 160C900.3 160 905.7 161.1 911 161.8C920.2 163 929.3 164.9 938.5 166.3C949.7 168.1 960.8 169.8 972 171.4C981.1 172.7 990.3 173.9 999.4 175.1C1010.5 176.6 1021.7 178.1 1032.8 179.4C1042 180.4 1051.2 181.3 1060.4 182.2C1071.4 183.3 1082.4 184.2 1093.4 185.3C1101.1 186.1 1108.8 186.9 1116.5 187.8" fill="none" stroke="#000" stroke-width="1.7" stroke-linejoin="round"/>
<path d="M695.3 256.3L699.9 263.5H690.7Z" fill="#000"/>
<path d="M728.2 248.3L732.8 255.5H723.6Z" fill="#000"/>
<path d="M756.2 240L760.8 247.2H751.6Z" fill="#000"/>
<path d="M789.2 223.2L793.8 230.4H784.6Z" fill="#000"/>
<path d="M817.2 202.6L821.8 209.8H812.6Z" fill="#000"/>
<path d="M850.1 161.5L854.7 168.7H845.5Z" fill="#000"/>
<path d="M877.5 155.4L882.1 162.6H872.9Z" fill="#000"/>
<path d="M911 157.1L915.6 164.3H906.4Z" fill="#000"/>
<path d="M938.6 161.6L943.2 168.8H934Z" fill="#000"/>
<path d="M972 166.7L976.6 173.9H967.4Z" fill="#000"/>
<path d="M999.4 170.4L1004 177.6H994.8Z" fill="#000"/>
<path d="M1032.8 174.7L1037.4 181.9H1028.2Z" fill="#000"/>
<path d="M1060.4 177.5L1065 184.7H1055.8Z" fill="#000"/>
<path d="M1093.4 180.6L1098 187.8H1088.8Z" fill="#000"/>
<path d="M677.6 273.6C705.1 273.6 732.5 273.6 760 273.6C792.3 273.6 824.7 273.6 857 273.6C858.8 273.6 860.6 273.3 862.4 272.8C863.1 272.6 863.9 271.7 864.6 270C864.9 269.2 865.3 267.7 865.6 264C865.8 261.8 866 248.9 866.2 240C866.4 232.6 866.5 223.3 866.7 215C867 201.7 867.2 185.5 867.5 175.2C867.8 164.9 868 157.8 868.3 150C868.7 139.2 869 130 869.4 120C869.8 110 870.1 96.7 870.5 90C871 80.9 871.5 73.8 872 70C872.6 65.1 873.3 63 873.9 60C874.4 57.5 875 54.9 875.5 53C876.1 51 876.6 48.6 877.2 47.8C879 45.2 880.7 44.6 882.5 43.3C886.1 40.6 889.8 37.9 893.4 36.2C896.3 34.9 899.1 33.8 902 33C903.6 32.6 905.3 32.3 906.9 31.9C911.3 30.9 915.6 29.4 920 28.5C928.4 26.7 936.8 25.2 945.2 24.1C948.7 23.6 952.2 23.2 955.7 22.9C968.8 21.7 981.8 20.9 994.9 20.2C1007.8 19.5 1020.8 18.9 1033.7 18.5C1046.7 18.1 1059.8 17.8 1072.8 17.5C1085.7 17.2 1098.7 17.1 1111.6 16.8C1113.2 16.8 1114.9 16.7 1116.5 16.7" fill="none" stroke="#000" stroke-width="1.7" stroke-linejoin="round"/>
<circle cx="750.1" cy="273.6" r="4.8" fill="#000"/>
<circle cx="789" cy="273.6" r="4.8" fill="#000"/>
<circle cx="828.3" cy="273.6" r="4.8" fill="#000"/>
<circle cx="867.5" cy="175.2" r="4.8" fill="#000"/>
<circle cx="906.9" cy="31.9" r="4.8" fill="#000"/>
<circle cx="945.2" cy="24.1" r="4.8" fill="#000"/>
<circle cx="955.7" cy="22.9" r="4.8" fill="#000"/>
<circle cx="994.9" cy="20.2" r="4.8" fill="#000"/>
<circle cx="1033.7" cy="18.5" r="4.8" fill="#000"/>
<circle cx="1072.8" cy="17.5" r="4.8" fill="#000"/>
<circle cx="1111.6" cy="16.8" r="4.8" fill="#000"/>
<path d="M693.7 28.8H722.4" stroke="#000" stroke-width="1.7"/>
<circle cx="707.9" cy="28.8" r="2.5" fill="#fff"/><path d="M702.5 28.8H713.3M707.9 23.4V34.2" stroke="#000" stroke-width="1.6" fill="none"/>
<text y="30.3" font-size="19" id="rl0"><tspan x="734.99" font-style="italic">y</tspan><tspan x="764.70">0</tspan></text><text transform=" translate(746.70 30.3) scale(1.27 1)" font-size="19">=</text>
<path d="M693.7 47.6H722.4" stroke="#000" stroke-width="1.7"/>
<circle cx="707.9" cy="47.6" r="2.5" fill="#fff"/><path d="M703.5 43.2L712.3 52M703.5 52L712.3 43.2" stroke="#000" stroke-width="1.6" fill="none"/>
<text y="49.5" font-size="19" id="rl1"><tspan x="734.99" font-style="italic">y</tspan><tspan x="777.95">0.5</tspan></text><text transform=" translate(746.70 49.5) scale(1.27 1)" font-size="19">=</text><text transform=" translate(765.60 49.5) scale(1.27 1)" font-size="19">−</text>
<path d="M693.7 66.4H722.4" stroke="#000" stroke-width="1.7"/>
<circle cx="707.9" cy="66.4" r="2.5" fill="#fff"/><path d="M702.2 66.4H713.6M707.9 60.7V72.1M703.5 62L712.3 70.8M703.5 70.8L712.3 62" stroke="#000" stroke-width="1.75" fill="none"/>
<text y="68.7" font-size="19" id="rl2"><tspan x="734.99" font-style="italic">y</tspan><tspan x="777.95">1.0</tspan></text><text transform=" translate(746.70 68.7) scale(1.27 1)" font-size="19">=</text><text transform=" translate(765.60 68.7) scale(1.27 1)" font-size="19">−</text>
<path d="M693.7 85.2H722.4" stroke="#000" stroke-width="1.7"/>
<circle cx="707.9" cy="85.2" r="2.5" fill="#fff"/><rect x="703" y="80.3" width="9.8" height="9.8" fill="none" stroke="#000" stroke-width="1.75"/><circle cx="707.9" cy="85.2" r="0.7" fill="#000"/>
<text y="87.9" font-size="19" id="rl3"><tspan x="734.99" font-style="italic">y</tspan><tspan x="777.95">1.5</tspan></text><text transform=" translate(746.70 87.9) scale(1.27 1)" font-size="19">=</text><text transform=" translate(765.60 87.9) scale(1.27 1)" font-size="19">−</text>
<path d="M693.7 104H722.4" stroke="#000" stroke-width="1.7"/>
<rect x="703.2" y="99.3" width="9.4" height="9.4" fill="#000"/>
<text y="107.1" font-size="19" id="rl4"><tspan x="734.99" font-style="italic">y</tspan><tspan x="777.95">2.0</tspan></text><text transform=" translate(746.70 107.1) scale(1.27 1)" font-size="19">=</text><text transform=" translate(765.60 107.1) scale(1.27 1)" font-size="19">−</text>
<path d="M693.7 122.7H722.4" stroke="#000" stroke-width="1.7"/>
<circle cx="707.9" cy="122.7" r="2.5" fill="#fff"/><circle cx="707.9" cy="122.7" r="4.7" fill="none" stroke="#000" stroke-width="1.8"/><circle cx="707.9" cy="122.7" r="0.7" fill="#000"/>
<text y="126.3" font-size="19" id="rl5"><tspan x="734.99" font-style="italic">y</tspan><tspan x="777.95">2.3</tspan></text><text transform=" translate(746.70 126.3) scale(1.27 1)" font-size="19">=</text><text transform=" translate(765.60 126.3) scale(1.27 1)" font-size="19">−</text>
<path d="M693.7 141.5H722.4" stroke="#000" stroke-width="1.7"/>
<path d="M707.9 136.8L712.5 144H703.3Z" fill="#000"/>
<text y="145.5" font-size="19" id="rl6"><tspan x="734.99" font-style="italic">y</tspan><tspan x="777.95">2.5</tspan></text><text transform=" translate(746.70 145.5) scale(1.27 1)" font-size="19">=</text><text transform=" translate(765.60 145.5) scale(1.27 1)" font-size="19">−</text>
<path d="M693.7 160.3H722.4" stroke="#000" stroke-width="1.7"/>
<circle cx="707.9" cy="160.3" r="4.8" fill="#000"/>
<text y="164.7" font-size="18.6" id="rl7"><tspan x="733.40">Adiabatic</tspan></text>
<text y="23.5" font-size="27.5" id="pb"><tspan x="581.90">(</tspan><tspan x="607.00">)</tspan></text><text transform=" translate(590.60 23.5) scale(1.08 1)" font-size="27.5" font-style="italic">b</text>
<g transform="rotate(-90)" id="yl2"><text y="614.1" font-size="30"><tspan x="-195.60" font-style="italic">T</tspan></text><text y="619.3" font-size="37.5"><tspan x="-175.28" font-style="italic">/</tspan></text><text y="614.1" font-size="30" stroke="#000" stroke-width="0.7"><tspan x="-164.60" font-style="italic">T</tspan></text><text y="602.8" font-size="20.5"><tspan x="-145.80">0</tspan></text><text y="621" font-size="20.5"><tspan x="-151.40" font-style="italic">f</tspan></text></g>
<g id="xl2"><text y="383.2" font-size="30"><tspan x="872.48" font-style="italic">x</tspan></text><text y="388.6" font-size="37.5"><tspan x="889.33" font-style="italic">/</tspan></text><text y="383.2" font-size="25.5"><tspan x="900.90" font-style="italic">δ</tspan></text><text y="371.8" font-size="20.5"><tspan x="914.40">0</tspan></text><text y="390.6" font-size="20.5"><tspan x="909.90" font-style="italic">f</tspan></text></g>
<text y="434.9" font-size="24.5" id="cap2"><tspan x="753.80" letter-spacing="0.28">Streamwise</tspan><tspan x="879.20" letter-spacing="-0.4">(flame</tspan><tspan x="951.60">at</tspan><tspan x="1018.59">0)</tspan></text><text transform=" translate(978.55 434.9) scale(1.15 1)" font-size="24.5" font-style="italic">x</text><text transform=" translate(995.00 434.9) scale(1.45 1)" font-size="24.5">=</text>
</svg>
</body></html>
